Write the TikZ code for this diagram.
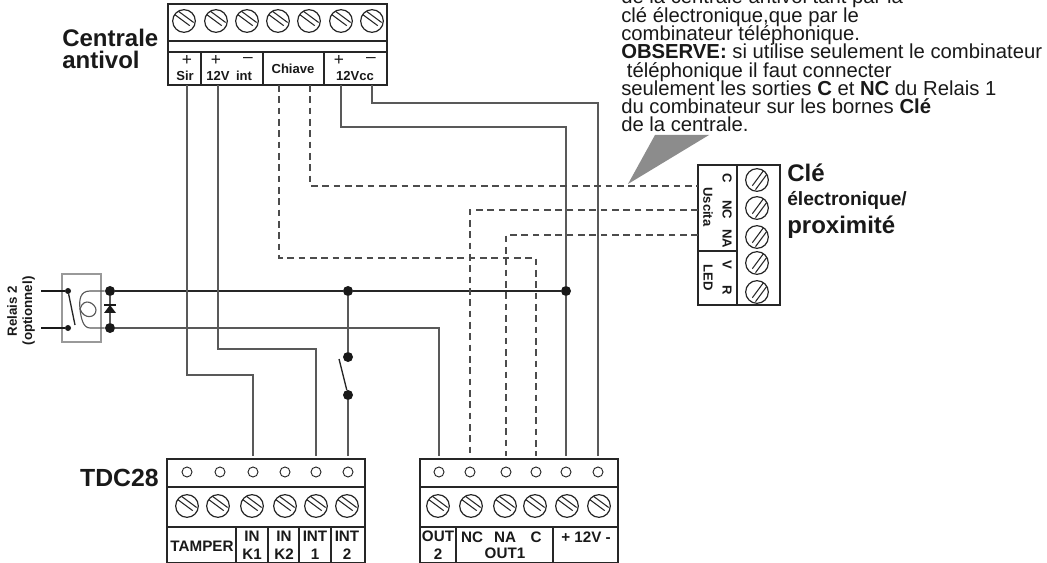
\documentclass[tikz,border=0pt]{standalone}
\usepackage{fontspec}
\setmainfont{Liberation Sans}
\usetikzlibrary{positioning}
\setlength{\lineskiplimit}{-20pt}
\setlength{\normallineskiplimit}{-20pt}
\tikzset{
  blackline/.style={line width=1.1pt, draw=black!85},
  wireline/.style={line width=0.85pt, draw=black!65},
  dashline/.style={line width=0.95pt, draw=black!70, dash pattern=on 5pt off 3.5pt},
  screwdot/.style={circle, draw=black!85, line width=0.9pt, minimum size=17pt, inner sep=0pt, path picture={
      \draw[line width=0.8pt, black!85] ([shift={(-7.2pt,5pt)}]path picture bounding box.center) -- ++(11.5pt,-8.5pt);
      \draw[line width=0.8pt, black!85] ([shift={(-4.3pt,7.4pt)}]path picture bounding box.center) -- ++(11.5pt,-8.5pt);}},
  holedot/.style={circle, draw=black!85, line width=0.7pt, minimum size=7.5pt, inner sep=0pt},
  jointdot/.style={circle, fill=black!90, minimum size=7.5pt, inner sep=0pt},
  smalldot/.style={circle, fill=black!90, minimum size=4.5pt, inner sep=0pt},
  termlabel/.style={font=\fontsize{9.8}{10.5}\selectfont\bfseries, text=black!90, align=center, inner sep=0pt},
  lowlabel/.style={font=\fontsize{11.4}{13.5}\selectfont\bfseries, text=black!90, align=center, inner sep=0pt},
  signlabel/.style={font=\fontsize{13}{13}\selectfont, text=black!90, inner sep=0pt},
  biglabel/.style={font=\fontsize{18}{16.5}\selectfont\bfseries, text=black!90, align=left, inner sep=0pt}
}
\begin{document}
\begin{tikzpicture}[x=0.75pt, y=-0.75pt]
  \useasboundingbox (0,0) rectangle (1047,563);

  % Note
  \node[anchor=north west, inner sep=0pt, align=left, text=black!90, font=\fontsize{15.2}{13.7}\selectfont] (note) at (621,-11) {de la  centrale antivol tant par la\\
    clé électronique,que par le\\
    combinateur téléphonique.\\
    \textbf{OBSERVE:} si utilise seulement le combinateur\\
    \ téléphonique il faut connecter\\
    seulement les sorties \textbf{C} et \textbf{NC} du Relais 1\\
    du combinateur sur les bornes \textbf{Clé}\\
    de la centrale.};
  \fill[black!45] (655,135) coordinate (notea) -- (709,135) coordinate (noteb) -- (628,184) coordinate (notetip) -- cycle;

  % Centrale
  \node[biglabel, anchor=west] (central) at (62,49) {Centrale\\antivol};
  \draw[blackline] (168,4) rectangle (387,85);
  \draw[blackline] (168,41) -- (387,41) (168,52) -- (387,52);
  \draw[blackline] (201,52) -- (201,85) (263,52) -- (263,85) (324,52) -- (324,85);
  \foreach \i/\x in {a/184,b/216,c/247,d/278,e/309,f/341,g/372}
    \node[screwdot] (top\i) at (\x,21) {};
  \node[signlabel] (sirp) at (187,61) {+};
  \node[termlabel] (sir) at (185,76) {Sir};
  \node[signlabel] (vplus) at (216,61) {+};
  \node[termlabel] (vtw) at (218,76) {12V};
  \node[signlabel] (vminus) at (248,60) {--};
  \node[termlabel] (vint) at (244,76) {int};
  \node[termlabel] (chiave) at (293,69) {Chiave};
  \node[signlabel] (ccp) at (339,61) {+};
  \node[signlabel] (ccm) at (371,60) {--};
  \node[termlabel] (cc) at (355,76) {12Vcc};
  \foreach \n/\x in {sirw/187,vtww/218,chl/279,chr/310,ccpw/341,ccmw/372}
    \coordinate (\n) at (\x,85);

  % Cle
  \draw[blackline] (698,165) rectangle (780,305);
  \draw[blackline] (737,165) -- (737,305) (698,251) -- (737,251);
  \foreach \i/\y in {a/180,b/208,c/237,d/263,e/292}
    \node[screwdot, rotate=-90] (cle\i) at (757,\y) {};
  \node[termlabel, rotate=-90] (clec) at (727,178) {C};
  \node[termlabel, rotate=-90] (clenc) at (727,210) {NC};
  \node[termlabel, rotate=-90] (clena) at (727,239) {NA};
  \node[termlabel, rotate=-90] (clev) at (727,265) {V};
  \node[termlabel, rotate=-90] (cler) at (727,290) {R};
  \node[termlabel, rotate=-90] (uscita) at (708,207) {Uscita};
  \node[termlabel, rotate=-90] (led) at (708,278) {LED};
  \node[biglabel, anchor=west] (clea) at (787,173) {Clé};
  \node[biglabel, anchor=west, font=\fontsize{14.4}{14.4}\selectfont\bfseries] (cleb) at (787,200) {électronique/};
  \node[biglabel, anchor=west] (clecc) at (787,227) {proximité};
  \coordinate (cw) at (698,186);
  \coordinate (ncw) at (698,210);
  \coordinate (naw) at (698,235);

  % TDC28
  \node[biglabel, font=\fontsize{18.6}{18.6}\selectfont\bfseries, anchor=east] (tdc) at (159,478) {TDC28};
  \draw[blackline] (167,459) rectangle (365,563);
  \draw[blackline] (167,487) -- (365,487) (167,527) -- (365,527);
  \foreach \x in {236,268,299,331} \draw[blackline] (\x,527) -- (\x,563);
  \foreach \i/\x/\sx in {a/187/187,b/220/218,c/253/252,d/285/285,e/316/316,f/348/347}
    {\node[holedot] (ha\i) at (\x,472) {};
     \coordinate (pa\i) at (\x,456);
     \node[screwdot] (sa\i) at (\sx,506) {};}
  \node[lowlabel] (tamper) at (202,546) {TAMPER};
  \node[lowlabel] (ink1) at (252,545) {IN\\K1};
  \node[lowlabel] (ink2) at (284,545) {IN\\K2};
  \node[lowlabel] (int1) at (315,545) {INT\\1};
  \node[lowlabel] (int2) at (347,545) {INT\\2};

  % OUT
  \draw[blackline] (420,459) rectangle (618,563);
  \draw[blackline] (420,487) -- (618,487) (420,527) -- (618,527);
  \draw[blackline] (456,527) -- (456,563) (553,527) -- (553,563);
  \foreach \i/\x/\sx in {a/439/438,b/470/471,c/506/505,d/536/535,e/566/567,f/598/599}
    {\node[holedot] (hb\i) at (\x,472) {};
     \coordinate (pb\i) at (\x,456);
     \node[screwdot] (sb\i) at (\sx,506) {};}
  \node[lowlabel] (out2) at (438,545) {OUT\\2};
  \node[lowlabel] (nclab) at (472,537) {NC};
  \node[lowlabel] (nalab) at (505,537) {NA};
  \node[lowlabel] (clab) at (536,537) {C};
  \node[lowlabel] (outa) at (505,553) {OUT1};
  \node[lowlabel] (pmlab) at (586,537) {+ 12V -};

  % Relais
  \node[termlabel, rotate=90, font=\fontsize{10}{11.5}\selectfont\bfseries] (relais) at (21,311) {Relais 2\\(optionnel)};
  \draw[line width=0.8pt, black!40] (62,274) rectangle (101,342);
  \node[jointdot] (ra) at (110,291) {};
  \node[jointdot] (rb) at (110,328) {};
  \node[smalldot] (rc) at (68,291) {};
  \node[smalldot] (rd) at (68,328) {};
  \coordinate (re) at (41,291);
  \coordinate (rf) at (41,328);
  \draw[line width=1.5pt, black!90] (re) -- (rc);
  \draw[line width=1.5pt, black!90] (rf) -- (rd);
  \draw[line width=1pt, black!85] (rc) -- (75,325);
  \draw[wireline] (ra) -- (90,291) .. controls (80,291) and (79,300) .. (80,309) .. controls (81,318) and (83,328) .. (90,328) -- (rb);
  \draw[wireline] (80,309) .. controls (84,296) and (96,304) .. (96,310) .. controls (96,318) and (84,320) .. (80,309);
  \draw[wireline] (ra) -- (rb);
  \fill[black!90] (110,305) coordinate (dioa) -- (104,313) -- (116,313) -- cycle;
  \draw[line width=1pt, black!90] (104,305) -- (116,305);

  % Wires
  \node[jointdot] (ja) at (348,291) {};
  \node[jointdot] (jb) at (566,291) {};
  \node[jointdot] (swa) at (348,357) {};
  \node[jointdot] (swb) at (348,395) {};
  \coordinate (swc) at (339,359);
  \draw[line width=0.9pt, black!85] (ra) -- (ja) -- (jb);
  \draw[wireline] (ja) -- (swa);
  \draw[line width=1pt, black!85] (swb) -- (swc);
  \draw[wireline] (swb) -- (paf);
  \draw[wireline] (rb) -- (439,328) -- (pba);
  \draw[wireline] (sirw) -- (187,375) -| (pac);
  \draw[wireline] (vtww) -- (218,349) -| (pae);
  \draw[wireline] (ccpw) -- (341,127) -- (566,127) -- (jb);
  \draw[wireline] (jb) -- (pbe);
  \draw[wireline] (ccmw) -- (372,103) -| (pbf);
  \draw[dashline] (chl) -- (279,258) -| (pbd);
  \draw[dashline] (chr) -- (310,186) -- (cw);
  \draw[dashline] (ncw) -| (pbb);
  \draw[dashline] (naw) -| (pbc);
\end{tikzpicture}
\end{document}
